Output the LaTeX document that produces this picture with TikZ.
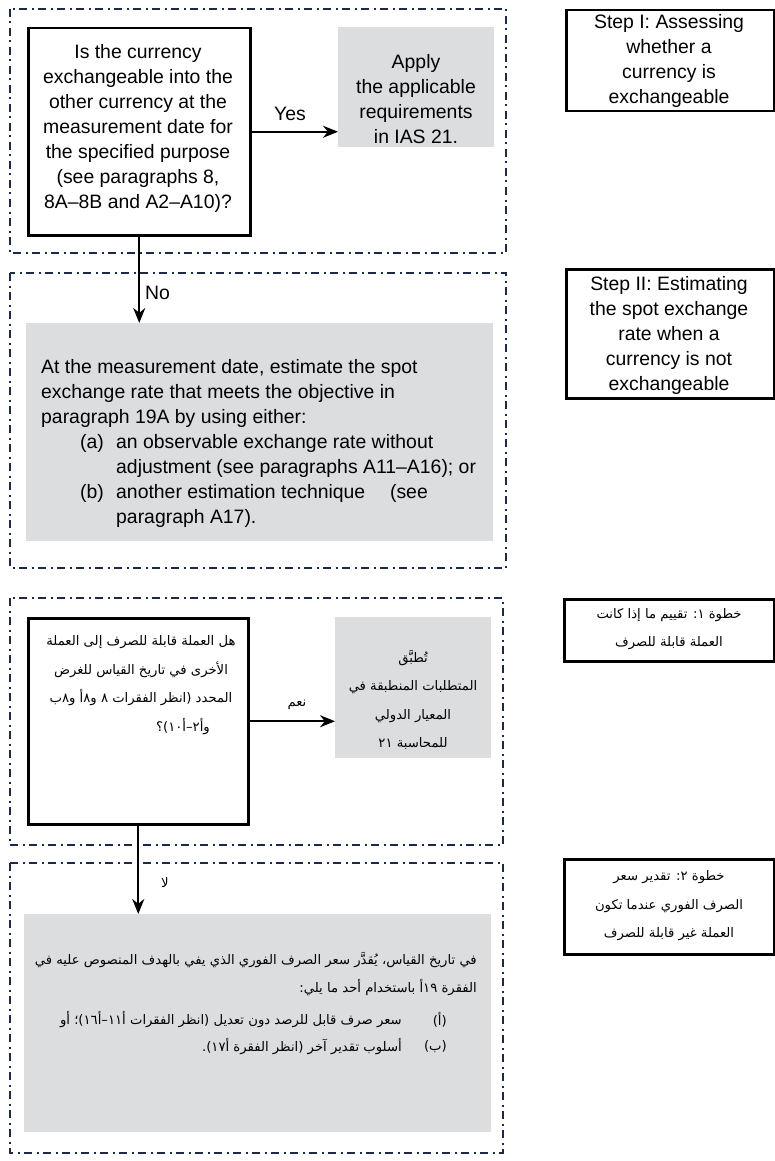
\documentclass[tikz,border=0pt]{standalone}
\usepackage{fontspec}
\setmainfont{Liberation Sans}
\newfontfamily\arabicfont[Script=Arabic]{DejaVu Sans}
\TeXXeTstate=1
\usetikzlibrary{arrows.meta}
\definecolor{framecol}{RGB}{28,42,72}
\definecolor{boxgray}{RGB}{220,221,223}
\begin{document}
\begin{tikzpicture}[x=1pt,y=-1pt,
  frame/.style={draw=framecol, line width=2.3pt, dash pattern=on 8pt off 4.5pt on 2pt off 4.5pt},
  qbox/.style={draw=black, line width=2.5pt, fill=white, anchor=north west, inner sep=0pt},
  gbox/.style={fill=boxgray, draw=none, anchor=north west, inner sep=0pt},
  stepbox/.style={draw=black, line width=2.5pt, fill=white, anchor=north west, inner sep=0pt},
  en/.style={font=\fontsize{19.4}{25}\selectfont, inner sep=0pt},
  ar/.style={font=\arabicfont\fontsize{13.2}{28.5}\selectfont, inner sep=0pt},
  arr/.style={line width=2.2pt, -{Stealth[length=15pt,width=12pt]}},
]
\useasboundingbox[fill=white] (0,0) rectangle (774,1161);

% ---------------- English part ----------------
\draw[frame] (10,9) rectangle (506,253);
\draw[frame] (10,273) rectangle (506,568);

\node[qbox, minimum width=222pt, minimum height=207pt] (q1) at (27,27) {};
\node[en, align=center] (q1t) at (138,128) {Is the currency\\exchangeable into the\\other currency at the\\measurement date for\\the specified purpose\\(see paragraphs 8,\\8A--8B and A2--A10)?};

\node[gbox, minimum width=156pt, minimum height=120pt] (a1) at (338,27) {};
\node[en, align=center] (a1t) at (416,99) {Apply\\the applicable\\requirements\\in IAS 21.};

\node[stepbox, minimum width=208pt, minimum height=101pt] (s1) at (565,9) {};
\node[en, align=center] (s1t) at (669,61) {Step I: Assessing\\whether a\\currency is\\exchangeable};

\node[stepbox, minimum width=208pt, minimum height=129pt] (s2) at (565,268) {};
\node[en, align=center] (s2t) at (669,335) {Step II: Estimating\\the spot exchange\\rate when a\\currency is not\\exchangeable};

\node[gbox, minimum width=467pt, minimum height=218pt] (g1) at (26,323) {};
\node[en, align=left, anchor=north west] (g1t) at (41,359) {At the measurement date, estimate the spot\\
exchange rate that meets the objective in\\
paragraph 19A by using either:\\
\hspace*{39pt}\makebox[36pt][l]{(a)}an observable exchange rate without\\
\hspace*{75pt}adjustment (see paragraphs A11--A16); or\\
\hspace*{39pt}\makebox[36pt][l]{(b)}another estimation technique\hspace{1em} (see\\
\hspace*{75pt}paragraph A17).};

\draw[arr] (q1.east) -- (q1.east -| a1.west);
\node[en] (yes) at (290,114) {Yes};
\draw[arr] (q1.south) -- (q1.south |- g1.north);
\node[en, anchor=west] (no) at (145,293) {No};

% ---------------- Arabic part ----------------
\draw[frame] (10,598) rectangle (503,845);
\draw[frame] (10,863) rectangle (503,1153);

\node[qbox, minimum width=220pt, minimum height=206pt] (q2) at (27,617) {};
\node[ar, align=center] (q2t) at (141,685) {\beginR هل العملة قابلة للصرف إلى العملة\endR\\
\beginR الأخرى في تاريخ القياس للغرض\endR\\
\beginR المحدد (انظر الفقرات ٨ و٨أ و٨ب\endR\\
\hspace*{84pt}\beginR وأ٢–أ١٠)؟\endR};

\node[gbox, minimum width=156pt, minimum height=141pt] (a2) at (335,617) {};
\node[ar, align=center] (a2t) at (413,700) {\beginR تُطبَّق\endR\\
\beginR المتطلبات المنطبقة في\endR\\
\beginR المعيار الدولي\endR\\
\beginR للمحاسبة ٢١\endR};

\node[stepbox, minimum width=210pt, minimum height=62pt] (s3) at (563,598) {};
\node[ar, align=center] (s3t) at (669,629) {\beginR خطوة ١: تقييم ما إذا كانت\endR\\
\beginR العملة قابلة للصرف\endR};

\node[stepbox, minimum width=210pt, minimum height=95pt] (s4) at (563,858) {};
\node[ar, align=center] (s4t) at (669,906) {\beginR خطوة ٢: تقدير سعر\endR\\
\beginR الصرف الفوري عندما تكون\endR\\
\beginR العملة غير قابلة للصرف\endR};

\node[gbox, minimum width=467pt, minimum height=218pt] (g2) at (24,914) {};
\node[ar, anchor=east] (g2l1) at (477,960) {\beginR في تاريخ القياس، يُقدَّر سعر الصرف الفوري الذي يفي بالهدف المنصوص عليه في\endR};
\node[ar, anchor=east] (g2l2) at (477,988) {\beginR الفقرة ١٩أ باستخدام أحد ما يلي:\endR};
\node[ar, anchor=east] (g2la) at (447,1020) {\beginR (أ)\endR};
\node[ar, anchor=east] (g2ta) at (402,1020) {\beginR سعر صرف قابل للرصد دون تعديل (انظر الفقرات أ١١–أ١٦)؛ أو\endR};
\node[ar, anchor=east] (g2lb) at (447,1047) {\beginR (ب)\endR};
\node[ar, anchor=east] (g2tb) at (402,1047) {\beginR أسلوب تقدير آخر (انظر الفقرة أ١٧).\endR};

\draw[arr] (q2.east) -- (q2.east -| a2.west);
\node[ar] (yesar) at (297,705) {\beginR نعم\endR};
\draw[arr] (q2.south) -- (q2.south |- g2.north);
\node[ar] (noar) at (165,883) {\beginR لا\endR};
\end{tikzpicture}
\end{document}
